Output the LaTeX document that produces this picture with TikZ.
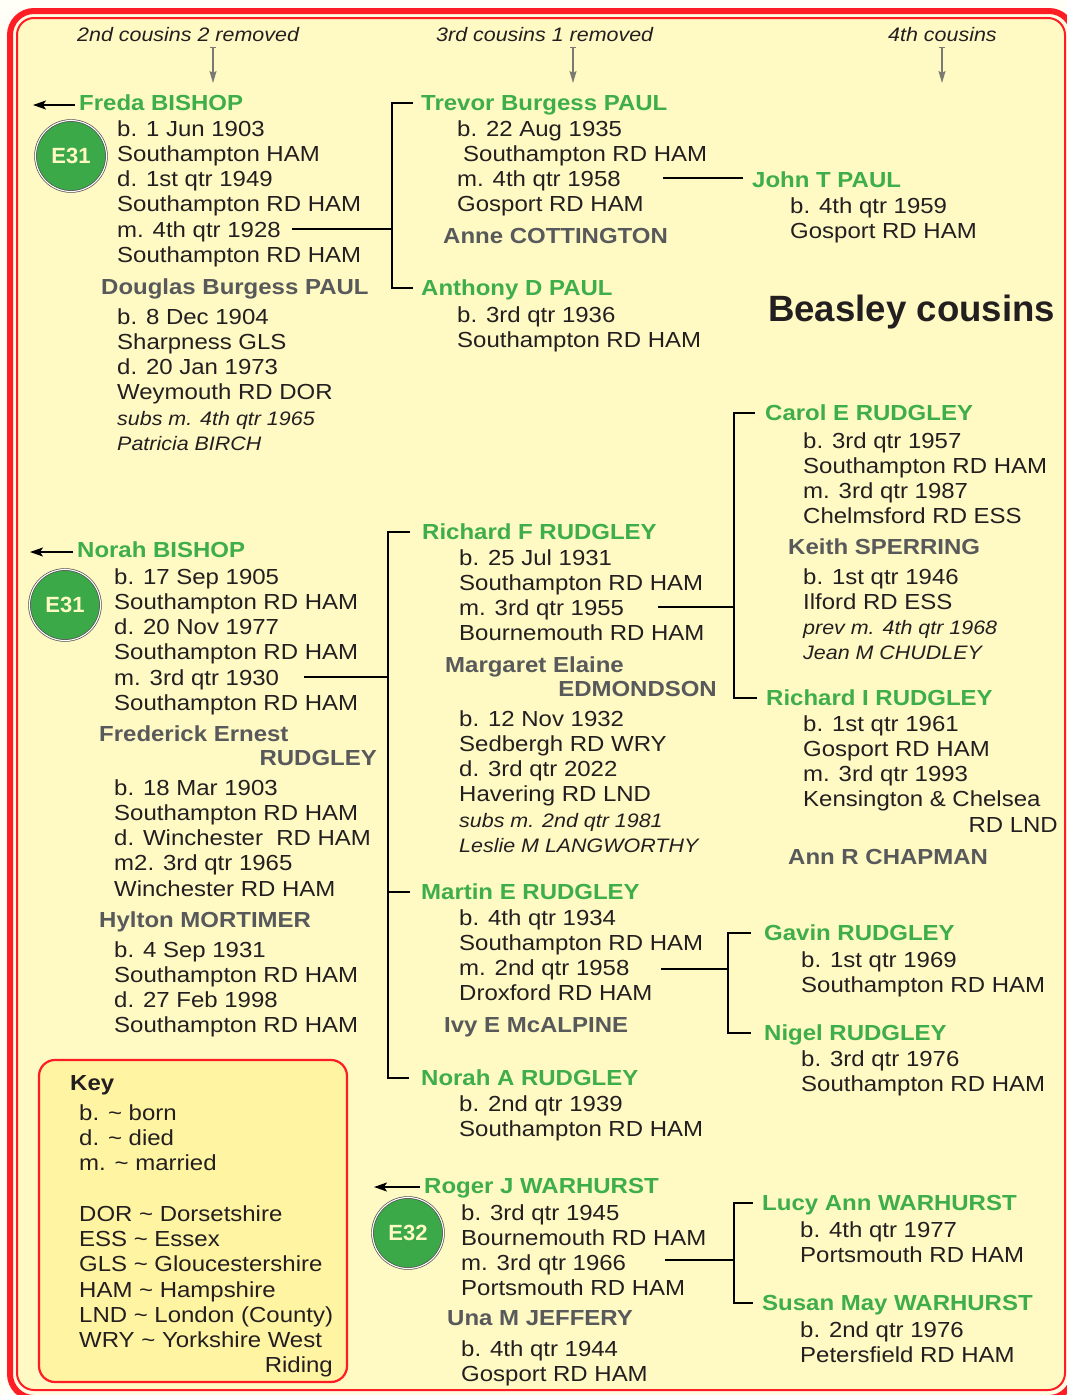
\documentclass[tikz,border=0pt]{standalone}
\usepackage{fontspec}
\setmainfont{Liberation Sans}[FakeStretch=1.1]
\newfontfamily\plainsans{Liberation Sans}
\usetikzlibrary{arrows.meta}
\definecolor{bgyel}{HTML}{FFF9C3}
\definecolor{gapyel}{HTML}{FFFCE4}
\definecolor{keyyel}{HTML}{FFF4A2}
\definecolor{framered}{HTML}{FF1D25}
\definecolor{ngreen}{HTML}{3DAE49}
\definecolor{sgrey}{HTML}{58595B}
\definecolor{ink}{HTML}{231F20}
\definecolor{cgreen}{HTML}{3BA948}
\definecolor{arrgray}{HTML}{7A7A72}
\newcommand\bodyf{\fontsize{21.8}{25.3}\selectfont}
\newcommand\itf{\fontsize{19.5}{25.3}\selectfont\itshape}
\newcommand\fl{\rule{0pt}{17pt}}
\tikzset{
  nm/.style={anchor=west, inner sep=0pt, text height=15.6pt, text depth=0pt, font=\bfseries\bodyf, text=ngreen},
  sp/.style={nm, text=sgrey},
  blk/.style={anchor=north west, inner sep=0pt, align=left, font=\bodyf, text=ink},
  ln/.style={inner sep=0pt, text height=15.6pt, text depth=0pt, font=\bodyf, text=ink},
  hdr/.style={anchor=west, inner sep=0pt, text height=14pt, text depth=0pt, font=\itf, text=ink},
  link/.style={draw=black, line width=2.3pt},
  back/.style={draw=black, line width=1.7pt, -{Stealth[length=13pt, width=9pt, inset=3pt]}},
  gen/.style={draw=arrgray, line width=1.4pt, {Bar[width=6pt, line width=1pt]}-{Stealth[length=12pt, width=7pt, inset=2pt]}},
  badge/.style={circle, minimum size=71pt, inner sep=0pt, fill=cgreen, draw=gray!60!black, line width=0.7pt, double=white, double distance=1.1pt, font=\plainsans\bfseries\fontsize{22}{24}\selectfont, text=bgyel},
  keybox/.style={rectangle, rounded corners=16pt, draw=framered, line width=2.2pt, fill=keyyel, minimum width=308pt, minimum height=322pt, inner sep=0pt}
}
\begin{document}
\begin{tikzpicture}[x=1pt, y=-1pt]
\useasboundingbox (0,0) rectangle (1067,1395);
% frame
\fill[white!97!yellow] (0,0) rectangle (1067,1395);
\draw[framered, line width=6pt, fill=gapyel, rounded corners=24pt] (10,11) rectangle (1073,1398);
\draw[framered, line width=2pt, fill=bgyel, rounded corners=17pt] (17,18) rectangle (1065,1390);

% generation headers
\node[hdr] (hdr1) at (77,34) {2nd cousins 2 removed};
\node[hdr] (hdr2) at (436,34) {3rd cousins 1 removed};
\node[hdr] (hdr3) at (888,34) {4th cousins};
\coordinate (g1s) at (213,47); \coordinate (g1e) at (213,83);
\coordinate (g2s) at (573,47); \coordinate (g2e) at (573,83);
\coordinate (g3s) at (942,47); \coordinate (g3e) at (942,83);
\draw[gen] (g1s) -- (g1e);
\draw[gen] (g2s) -- (g2e);
\draw[gen] (g3s) -- (g3e);

% title
\node[anchor=west, inner sep=0pt, text height=26.2pt, text depth=0pt, font=\plainsans\bfseries\fontsize{36.6}{40}\selectfont, text=ink] (title) at (768,308) {Beasley cousins};

% ---------- Freda ----------
\node[nm] (fredaN) at (79,103) {Freda BISHOP};
\node[badge] (e31a) at (71,156) {E31};
\node[blk] (fredaB) at (117,118.8) {\fl b. 1 Jun 1903\\Southampton HAM\\d. 1st qtr 1949\\Southampton RD HAM\\m. 4th qtr 1928\\Southampton RD HAM};
\node[sp] (douglasN) at (101,287) {Douglas Burgess PAUL};
\node[blk] (douglasB) at (117,306.8) {\fl b. 8 Dec 1904\\Sharpness GLS\\d. 20 Jan 1973\\Weymouth RD DOR\\{\itf subs m. 4th qtr 1965}\\{\itf Patricia BIRCH}};
\coordinate (fa) at (33,105);
\draw[back] ([xshift=-4pt,yshift=-2pt]fredaN.west) -- (fa);

\node[nm] (trevorN) at (421,103) {Trevor Burgess PAUL};
\node[blk] (trevorB) at (457,118.8) {\fl b. 22 Aug 1935\\\hspace*{6pt}Southampton RD HAM\\m. 4th qtr 1958\\Gosport RD HAM};
\node[sp] (anneN) at (443,236) {Anne COTTINGTON};
\node[nm] (anthonyN) at (421,288) {Anthony D PAUL};
\node[blk] (anthonyB) at (457,304.8) {\fl b. 3rd qtr 1936\\Southampton RD HAM};
\coordinate (fm) at (292,229); \coordinate (fj) at (392,229);
\draw[link] (fm) -- (fj);
\draw[link] ([xshift=-8pt]trevorN.west) -| (fj) |- ([xshift=-8pt]anthonyN.west);

\node[nm] (johnN) at (752,180) {John T PAUL};
\node[blk] (johnB) at (790,195.8) {\fl b. 4th qtr 1959\\Gosport RD HAM};
\coordinate (tm) at (663,178);
\draw[link] (tm) -- ([xshift=-9pt]johnN.west |- tm);

% ---------- Norah ----------
\node[nm] (norahN) at (77,550) {Norah BISHOP};
\node[badge] (e31b) at (65,605) {E31};
\node[blk] (norahB) at (114,566.8) {\fl b. 17 Sep 1905\\Southampton RD HAM\\d. 20 Nov 1977\\Southampton RD HAM\\m. 3rd qtr 1930\\Southampton RD HAM};
\coordinate (na) at (30,552);
\draw[back] ([xshift=-4pt,yshift=-2pt]norahN.west) -- (na);
\node[sp] (frederickN) at (99,734) {Frederick Ernest};
\node[sp, anchor=east] (frederickS) at (377,758) {RUDGLEY};
\node[blk] (frederickB) at (114,777.8) {\fl b. 18 Mar 1903\\Southampton RD HAM\\d. Winchester\ \ RD HAM\\m2. 3rd qtr 1965\\Winchester RD HAM};
\node[sp] (hyltonN) at (99,920) {Hylton MORTIMER};
\node[blk] (hyltonB) at (114,939.8) {\fl b. 4 Sep 1931\\Southampton RD HAM\\d. 27 Feb 1998\\Southampton RD HAM};

\node[nm] (richfN) at (422,532) {Richard F RUDGLEY};
\node[blk] (richfB) at (459,547.8) {\fl b. 25 Jul 1931\\Southampton RD HAM\\m. 3rd qtr 1955\\Bournemouth RD HAM};
\node[sp] (margaretN) at (445,665) {Margaret Elaine};
\node[sp, anchor=east] (margaretS) at (717,689) {EDMONDSON};
\node[blk] (margaretB) at (459,708.8) {\fl b. 12 Nov 1932\\Sedbergh RD WRY\\d. 3rd qtr 2022\\Havering RD LND\\{\itf subs m. 2nd qtr 1981}\\{\itf Leslie M LANGWORTHY}};
\node[nm] (martinN) at (421,892) {Martin E RUDGLEY};
\node[blk] (martinB) at (459,907.8) {\fl b. 4th qtr 1934\\Southampton RD HAM\\m. 2nd qtr 1958\\Droxford RD HAM};
\node[sp] (ivyN) at (444,1025) {Ivy E McALPINE};
\node[nm] (norahaN) at (421,1078) {Norah A RUDGLEY};
\node[blk] (norahaB) at (459,1093.8) {\fl b. 2nd qtr 1939\\Southampton RD HAM};
\coordinate (nm) at (304,677); \coordinate (nj) at (388,677);
\draw[link] (nm) -- (nj);
\draw[link] ([xshift=-12pt]richfN.west) -| (nj) |- ([xshift=-12pt]norahaN.west);
\draw[link] (nj |- martinN.west) -- ([xshift=-11pt]martinN.west);

% Richard F children
\node[nm] (carolN) at (765,413) {Carol E RUDGLEY};
\node[blk] (carolB) at (803,430.8) {\fl b. 3rd qtr 1957\\Southampton RD HAM\\m. 3rd qtr 1987\\Chelmsford RD ESS};
\node[sp] (keithN) at (788,547) {Keith SPERRING};
\node[blk] (keithB) at (803,566.8) {\fl b. 1st qtr 1946\\Ilford RD ESS\\{\itf prev m. 4th qtr 1968}\\{\itf Jean M CHUDLEY}};
\node[nm] (richiN) at (766,698) {Richard I RUDGLEY};
\node[blk] (richiB) at (803,713.8) {\fl b. 1st qtr 1961\\Gosport RD HAM\\m. 3rd qtr 1993\\Kensington \& Chelsea};
\node[ln, anchor=east] (richiS) at (1058,825) {RD LND};
\node[sp] (annN) at (788,857) {Ann R CHAPMAN};
\coordinate (rm) at (658,607); \coordinate (rj) at (734,607);
\draw[link] (rm) -- (rj);
\draw[link] ([xshift=-10pt]carolN.west) -| (rj) |- ([xshift=-9pt]richiN.west);

% Martin children
\node[nm] (gavinN) at (764,933) {Gavin RUDGLEY};
\node[blk] (gavinB) at (801,949.8) {\fl b. 1st qtr 1969\\Southampton RD HAM};
\node[nm] (nigelN) at (764,1033) {Nigel RUDGLEY};
\node[blk] (nigelB) at (801,1048.8) {\fl b. 3rd qtr 1976\\Southampton RD HAM};
\coordinate (mm) at (661,969); \coordinate (mj) at (728,969);
\draw[link] (mm) -- (mj);
\draw[link] ([xshift=-13pt]gavinN.west) -| (mj) |- ([xshift=-13pt]nigelN.west);

% ---------- Key ----------
\node[keybox] (keyK) at (193,1221) {};
\node[nm, text=ink] (keyT) at (70,1083) {Key};
\node[blk] (keyB) at (79,1102.8) {\fl b. \char`~\ born\\d. \char`~\ died\\m. \char`~\ married\\[25.3pt]DOR \char`~\ Dorsetshire\\ESS \char`~\ Essex\\GLS \char`~\ Gloucestershire\\HAM \char`~\ Hampshire\\LND \char`~\ London (County)\\WRY \char`~\ Yorkshire West};
\node[ln, anchor=east] (keyS) at (333,1365) {Riding};

% ---------- Roger ----------
\node[nm] (rogerN) at (424,1186) {Roger J WARHURST};
\node[badge] (e32) at (408,1233) {E32};
\node[blk] (rogerB) at (461,1202.8) {\fl b. 3rd qtr 1945\\Bournemouth RD HAM\\m. 3rd qtr 1966\\Portsmouth RD HAM};
\node[sp] (unaN) at (447,1318) {Una M JEFFERY};
\node[blk] (unaB) at (461,1338.8) {\fl b. 4th qtr 1944\\Gosport RD HAM};
\coordinate (ra) at (374,1187);
\draw[back] ([xshift=-4pt,yshift=-1pt]rogerN.west) -- (ra);

\node[nm] (lucyN) at (762,1203) {Lucy Ann WARHURST};
\node[blk] (lucyB) at (800,1219.8) {\fl b. 4th qtr 1977\\Portsmouth RD HAM};
\node[nm] (susanN) at (762,1303) {Susan May WARHURST};
\node[blk] (susanB) at (800,1319.8) {\fl b. 2nd qtr 1976\\Petersfield RD HAM};
\coordinate (wm) at (665,1260); \coordinate (wj) at (734,1260);
\draw[link] (wm) -- (wj);
\draw[link] ([xshift=-9pt]lucyN.west) -| (wj) |- ([xshift=-9pt]susanN.west);
\end{tikzpicture}
\end{document}
